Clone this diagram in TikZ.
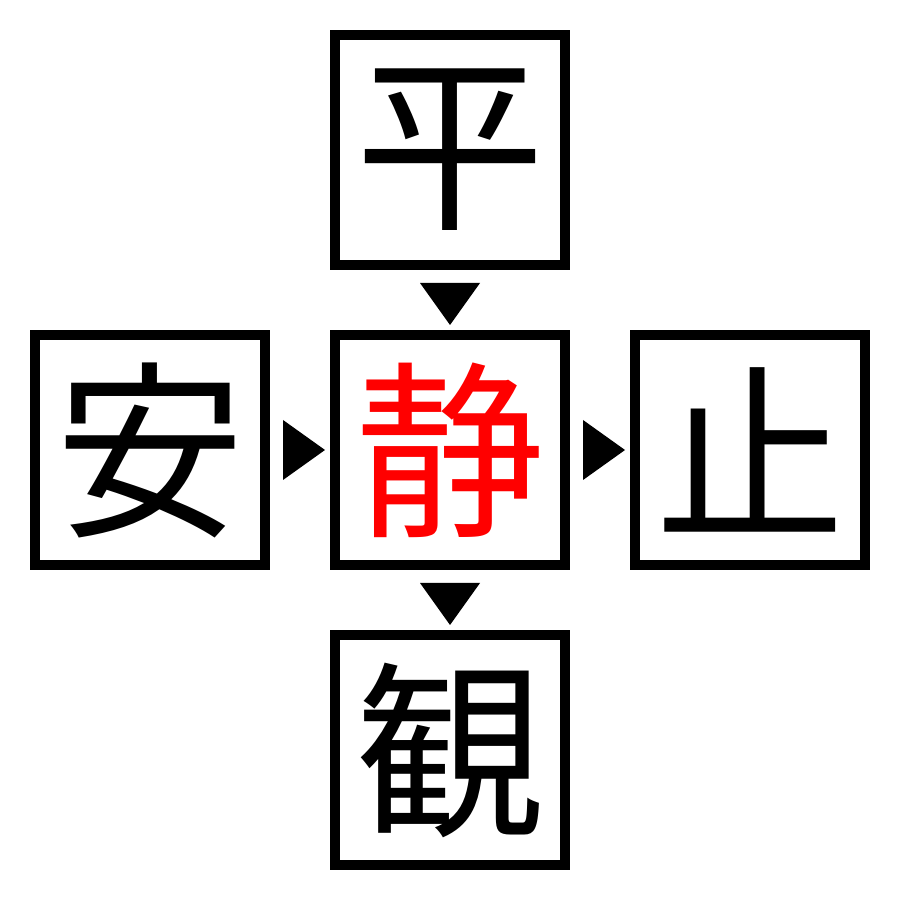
\documentclass[tikz,border=0pt]{standalone}
\usepackage{fontspec}
\newfontfamily\cjk{Noto Sans CJK JP}
\usetikzlibrary{calc}
\tikzset{
  kanji box/.style={
    draw, line width=0.1cm, minimum size=2.3cm, inner sep=0pt,
    font=\cjk\fontsize{54}{60}\selectfont
  }
}
\begin{document}
\begin{tikzpicture}
\useasboundingbox (0,0) rectangle (9,9);
\node[kanji box, text=red] (sei) at (4.5,4.5) {静};
\node[kanji box] (hei) at (4.5,7.5) {平};
\node[kanji box] (an)  at (1.5,4.5) {安};
\node[kanji box] (shi) at (7.5,4.5) {止};
\node[kanji box] (kan) at (4.5,1.5) {観};
% markers pointing into the next box
\foreach \tgt/\ang in {sei/90, sei/180, shi/180, kan/90} {
  \fill ($(\tgt)+(\ang:1.67)+(\ang+90:0.3)$)
     -- ($(\tgt)+(\ang:1.67)+(\ang-90:0.3)$)
     -- ($(\tgt)+(\ang:1.25)$) -- cycle;
}
\end{tikzpicture}
\end{document}
